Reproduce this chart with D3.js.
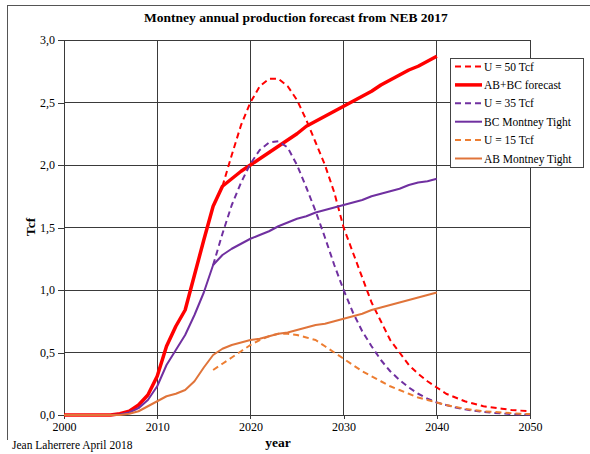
<!DOCTYPE html>
<html>
<head>
<meta charset="utf-8">
<script src="https://cdn.jsdelivr.net/npm/d3@7.9.0/dist/d3.min.js"></script>
<style>
  body { margin: 0; background: #fff; }
  svg text { font-family: "Liberation Serif", "Times New Roman", serif; fill: #000; }
</style>
</head>
<body>
<svg id="chart" width="590" height="454"></svg>
<script>
// data (Tcf per year)
const yearsHist = d3.range(2000, 2041);
const abbcForecast = [0, 0, 0, 0, 0, 0, 0.01, 0.03, 0.08, 0.16, 0.31, 0.55, 0.71, 0.84, 1.12, 1.4, 1.67, 1.83,
  1.89, 1.95, 2.0, 2.05, 2.1, 2.15, 2.2, 2.25, 2.31, 2.35, 2.39, 2.43, 2.47, 2.51, 2.55, 2.59, 2.64, 2.68,
  2.72, 2.76, 2.79, 2.83, 2.87];
const bcTight = [0, 0, 0, 0, 0, 0, 0.005, 0.02, 0.055, 0.12, 0.23, 0.4, 0.52, 0.64, 0.8, 0.98, 1.2, 1.28,
  1.33, 1.37, 1.41, 1.44, 1.47, 1.51, 1.54, 1.57, 1.59, 1.62, 1.64, 1.66, 1.68, 1.7, 1.72, 1.75, 1.77, 1.79,
  1.81, 1.84, 1.86, 1.87, 1.89];
const abTight = [0, 0, 0, 0, 0, 0, 0, 0.01, 0.03, 0.07, 0.11, 0.15, 0.17, 0.2, 0.27, 0.38, 0.48, 0.53,
  0.56, 0.58, 0.6, 0.61, 0.63, 0.65, 0.66, 0.68, 0.7, 0.72, 0.73, 0.75, 0.77, 0.79, 0.81, 0.84, 0.86, 0.88,
  0.9, 0.92, 0.94, 0.96, 0.98];

const yearsU50 = d3.range(2017, 2051);
const u50 = [1.83, 2.08, 2.32, 2.5, 2.63, 2.69, 2.69, 2.63, 2.52, 2.36, 2.18, 2.0, 1.78, 1.5, 1.3, 1.1, 0.9,
  0.75, 0.6, 0.5, 0.4, 0.33, 0.27, 0.22, 0.17, 0.14, 0.11, 0.09, 0.07, 0.06, 0.05, 0.04, 0.035, 0.03];
const yearsU = d3.range(2016, 2051);
const u35 = [1.2, 1.45, 1.68, 1.86, 2.01, 2.12, 2.18, 2.19, 2.14, 2.0, 1.82, 1.63, 1.42, 1.2, 1.0, 0.82, 0.67,
  0.55, 0.44, 0.35, 0.28, 0.22, 0.17, 0.13, 0.1, 0.08, 0.06, 0.045, 0.035, 0.025, 0.018, 0.012, 0.008, 0.004, 0.002];
const u15 = [0.36, 0.41, 0.46, 0.51, 0.56, 0.6, 0.63, 0.65, 0.65, 0.64, 0.62, 0.6, 0.55, 0.5, 0.45, 0.4, 0.35,
  0.31, 0.27, 0.23, 0.2, 0.17, 0.14, 0.12, 0.1, 0.08, 0.065, 0.05, 0.04, 0.03, 0.025, 0.02, 0.015, 0.01, 0.008];

const xTicks = [2000, 2010, 2020, 2030, 2040, 2050];
const yTicks = [0, 0.5, 1, 1.5, 2, 2.5, 3];

const series = [
  { name: 'U = 50 Tcf', years: yearsU50, values: u50, color: '#ff0000', width: 2, dash: '6,4' },
  { name: 'AB+BC forecast', years: yearsHist, values: abbcForecast, color: '#ff0000', width: 3.5, dash: null },
  { name: 'U = 35 Tcf', years: yearsU, values: u35, color: '#7030a0', width: 2, dash: '6,4' },
  { name: 'BC Montney Tight', years: yearsHist, values: bcTight, color: '#7030a0', width: 2, dash: null },
  { name: 'U = 15 Tcf', years: yearsU, values: u15, color: '#ed7d31', width: 2, dash: '6,4' },
  { name: 'AB Montney Tight', years: yearsHist, values: abTight, color: '#e0743a', width: 2, dash: null },
];

const svg = d3.select('#chart');
const plotL = 64, plotR = 530, plotT = 40, plotB = 415;

const x = d3.scaleLinear().domain([2000, 2050]).range([plotL, plotR]);
const y = d3.scaleLinear().domain([0, 3]).range([plotB, plotT]);

// outer frame of the original screenshot
svg.append('line').attr('x1', 7.5).attr('x2', 7.5).attr('y1', 5).attr('y2', 440)
  .attr('stroke', '#555').attr('stroke-width', 1);
svg.append('line').attr('x1', 7).attr('x2', 590).attr('y1', 5.5).attr('y2', 5.5)
  .attr('stroke', '#555').attr('stroke-width', 1);

// grid
const grid = svg.append('g').attr('stroke', '#3a3a3a').attr('stroke-width', 1).attr('shape-rendering', 'crispEdges');
yTicks.forEach((t) => {
  grid.append('line').attr('x1', plotL).attr('x2', plotR).attr('y1', y(t)).attr('y2', y(t));
});
xTicks.forEach((t) => {
  grid.append('line').attr('x1', x(t)).attr('x2', x(t)).attr('y1', plotT).attr('y2', plotB);
});

// axes
const yAxis = d3.axisLeft(y).tickValues(yTicks).tickSize(6).tickPadding(3)
  .tickFormat((d) => d3.format('.1f')(d).replace('.', ','));
svg.append('g').attr('transform', `translate(${plotL},0)`).call(yAxis)
  .attr('font-family', null)
  .call((g) => g.select('.domain').remove())
  .call((g) => g.selectAll('line').attr('stroke', '#3a3a3a').attr('shape-rendering', 'crispEdges'))
  .call((g) => g.selectAll('text').attr('font-size', 12));

const xAxis = d3.axisBottom(x).tickValues(xTicks).tickSize(4).tickPadding(3).tickFormat(d3.format('d'));
svg.append('g').attr('transform', `translate(0,${plotB})`).call(xAxis)
  .attr('font-family', null)
  .call((g) => g.select('.domain').remove())
  .call((g) => g.selectAll('line').attr('stroke', '#3a3a3a').attr('shape-rendering', 'crispEdges'))
  .call((g) => g.selectAll('text').attr('font-size', 12));

// lines, straight segments as in the original
const line = d3.line().x((d) => x(d[0])).y((d) => y(d[1]));
series.forEach((s) => {
  const pts = s.years.map((yr, i) => [yr, s.values[i]]);
  svg.append('path')
    .datum(pts)
    .attr('d', line)
    .attr('fill', 'none')
    .attr('stroke', s.color)
    .attr('stroke-width', s.width)
    .attr('stroke-dasharray', s.dash)
    .attr('stroke-linejoin', 'round');
});

// legend
const lg = svg.append('g').attr('transform', 'translate(450,58)');
lg.append('rect').attr('x', 0.5).attr('y', 0.5).attr('width', 133).attr('height', 109)
  .attr('fill', '#fff').attr('stroke', '#444').attr('stroke-width', 1);
series.forEach((s, i) => {
  const cy = 8.5 + i * 18.4;
  lg.append('line').attr('x1', 5).attr('x2', 32).attr('y1', cy).attr('y2', cy)
    .attr('stroke', s.color).attr('stroke-width', s.width === 2 ? 2 : 3.5)
    .attr('stroke-dasharray', s.dash ? '6,4' : null);
  lg.append('text').attr('x', 34).attr('y', cy + 4).attr('font-size', 11.5).text(s.name);
});

// titles
svg.append('text').attr('x', 296).attr('y', 22).attr('text-anchor', 'middle')
  .attr('font-size', 13.5).attr('font-weight', 'bold').text('Montney annual production forecast from NEB 2017');
svg.append('text').attr('transform', 'translate(35,227) rotate(-90)').attr('text-anchor', 'middle')
  .attr('font-size', 13.5).attr('font-weight', 'bold').text('Tcf');
svg.append('text').attr('x', 278).attr('y', 447).attr('text-anchor', 'middle')
  .attr('font-size', 13.5).attr('font-weight', 'bold').text('year');
svg.append('text').attr('x', 12).attr('y', 449).attr('font-size', 11.5).text('Jean Laherrere April 2018');
</script>
</body>
</html>
